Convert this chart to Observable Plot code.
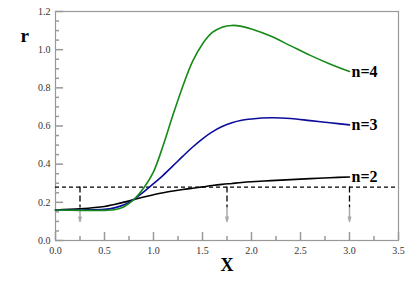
<!DOCTYPE html>
<html><head><meta charset="utf-8">
<script src="https://cdn.jsdelivr.net/npm/d3@7"></script>
<script src="https://cdn.jsdelivr.net/npm/@observablehq/plot@0.6"></script>
<style>body{margin:0;background:#fff}</style>
</head><body><div id="chart"></div>
<script>
const xs   = [0, 0.25, 0.5, 0.6, 0.7, 0.8, 0.9, 1.0, 1.1, 1.2, 1.3, 1.4, 1.5, 1.6, 1.7, 1.8, 1.9, 2.0, 2.2, 2.4, 2.6, 2.8, 3.0];
const rN2  = [0.160, 0.166, 0.178, 0.189, 0.201, 0.215, 0.228, 0.240, 0.250, 0.259, 0.267, 0.274, 0.281, 0.288, 0.294, 0.299, 0.304, 0.308, 0.314, 0.319, 0.324, 0.329, 0.333];
const rN3  = [0.160, 0.160, 0.163, 0.171, 0.187, 0.215, 0.255, 0.298, 0.343, 0.392, 0.442, 0.490, 0.533, 0.569, 0.597, 0.617, 0.630, 0.637, 0.643, 0.639, 0.628, 0.617, 0.606];
const rN4  = [0.160, 0.158, 0.158, 0.161, 0.177, 0.215, 0.275, 0.360, 0.500, 0.660, 0.810, 0.940, 1.030, 1.090, 1.118, 1.127, 1.122, 1.108, 1.070, 1.020, 0.970, 0.925, 0.886];
const seriesNames  = ["n=2", "n=3", "n=4"];
const seriesValues = [rN2, rN3, rN4];
const seriesColors = ["#000000", "#0b0b9e", "#168a16"];
const threshold = 0.28;
const arrowX = [0.25, 1.75, 3.0];
const arrowDashEnd = 0.17;
const arrowTipEnd = 0.10;
const xTicks = [0, 0.5, 1.0, 1.5, 2.0, 2.5, 3.0, 3.5];
const xMinor = [0.25, 0.75, 1.25, 1.75, 2.25, 2.75, 3.25];
const yTicks = [0, 0.2, 0.4, 0.6, 0.8, 1.0, 1.2];
const yMinor = [0.05, 0.1, 0.15, 0.25, 0.3, 0.35, 0.45, 0.5, 0.55, 0.65, 0.7, 0.75, 0.85, 0.9, 0.95, 1.05, 1.1, 1.15];

const rows = seriesNames.flatMap((n, i) => xs.map((x, j) => ({x, r: seriesValues[i][j], n})));
const lastPts = seriesNames.map((n, i) => ({x: xs[xs.length - 1], r: seriesValues[i][xs.length - 1], n}));
const arrows = arrowX.map(x => ({x, top: threshold, mid: arrowDashEnd, tip: arrowTipEnd}));

const W = 415, H = 286, ML = 55, MR = 17, MT = 11, MB = 46;
const innerW = W - ML - MR, innerH = H - MT - MB;
const serif = "'Liberation Serif', 'Times New Roman', serif";

const chart = Plot.plot({
  width: W, height: H,
  marginLeft: ML, marginRight: MR, marginTop: MT, marginBottom: MB,
  style: {fontFamily: serif, background: "#fff"},
  x: {domain: [0, 3.5]},
  y: {domain: [0, 1.2]},
  color: {domain: seriesNames, range: seriesColors},
  marks: [
    Plot.frame({stroke: "#999", strokeWidth: 1.2}),
    Plot.axisX({ticks: xTicks, tickSize: 0, tickPadding: 6, tickFormat: d3.format(".1f"), fontSize: 10, fontFamily: serif, fill: "#333", label: null}),
    Plot.axisY({ticks: yTicks, tickSize: 0, tickPadding: 5, tickFormat: d3.format(".1f"), fontSize: 10, fontFamily: serif, fill: "#333", label: null}),
    Plot.tickX(xTicks, {x: d => d, insetTop: innerH - 8, stroke: "#999", strokeWidth: 1.5}),
    Plot.tickX(xMinor, {x: d => d, insetTop: innerH - 4, stroke: "#999", strokeWidth: 1.5}),
    Plot.tickY(yTicks, {y: d => d, insetRight: innerW - 8, stroke: "#999", strokeWidth: 1.5}),
    Plot.tickY(yMinor, {y: d => d, insetRight: innerW - 4, stroke: "#999", strokeWidth: 1.5}),
    Plot.ruleY([threshold], {stroke: "#000", strokeWidth: 1.3, strokeDasharray: "4,3"}),
    Plot.ruleX(arrows, {x: "x", y1: "top", y2: "mid", stroke: "#000", strokeWidth: 1.3, strokeDasharray: "6,3"}),
    Plot.arrow(arrows, {x1: "x", x2: "x", y1: "mid", y2: "tip", stroke: "#aaa", strokeWidth: 1.5, headLength: 10, headAngle: 30}),
    Plot.line(rows, {x: "x", y: "r", z: "n", stroke: "n", strokeWidth: 1.6, curve: "catmull-rom"}),
    Plot.text(lastPts, {x: "x", y: "r", text: "n", textAnchor: "start", dx: 2, fontSize: 16, fontWeight: "bold", fontFamily: serif, fill: "#000"}),
    Plot.text(["X"], {frameAnchor: "bottom", dy: 30, fontSize: 18, fontWeight: "bold", fontFamily: serif, fill: "#000"}),
    Plot.text(["r"], {frameAnchor: "top-left", dx: -35, dy: 17, fontSize: 19, fontWeight: "bold", fontFamily: serif, fill: "#000"})
  ]
});
document.getElementById("chart").appendChild(chart);
</script>
</body></html>
